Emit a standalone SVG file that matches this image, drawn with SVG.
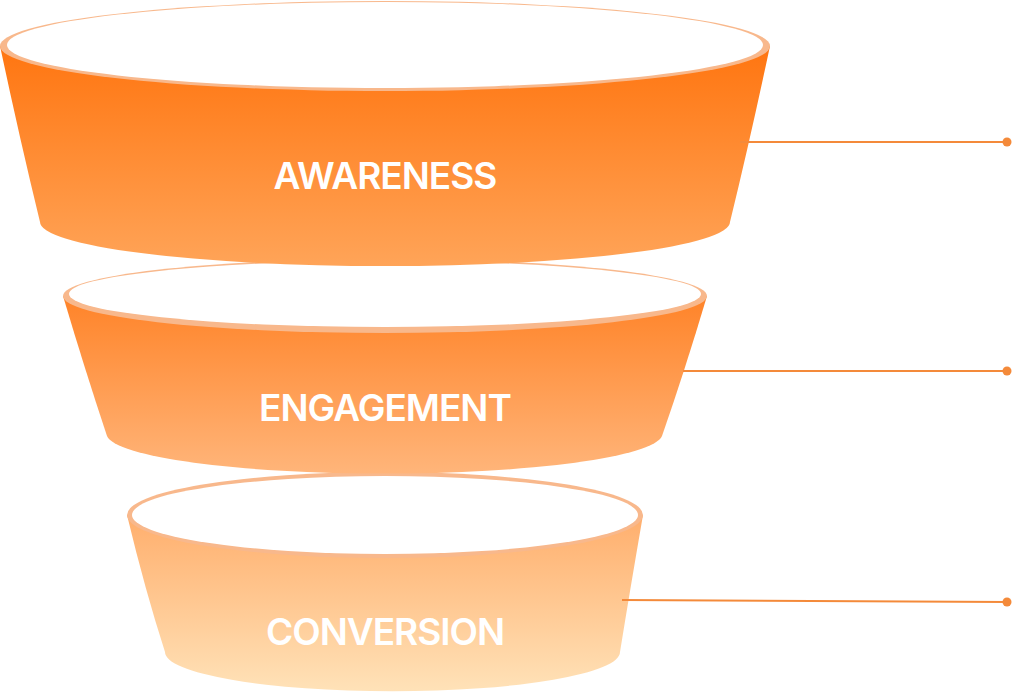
<svg xmlns="http://www.w3.org/2000/svg" width="1014" height="692" viewBox="0 0 1014 692">
<defs>
<linearGradient id="g1" x1="0" y1="0" x2="0" y2="1"><stop offset="0" stop-color="#ff7510"/><stop offset="1" stop-color="#ffa458"/></linearGradient>
<linearGradient id="g2" x1="0" y1="0" x2="0" y2="1"><stop offset="0" stop-color="#ff8328"/><stop offset="1" stop-color="#ffb57a"/></linearGradient>
<linearGradient id="g3" x1="0" y1="0" x2="0" y2="1"><stop offset="0" stop-color="#ffae6c"/><stop offset="1" stop-color="#ffe2b8"/></linearGradient>
<style>
.rim{fill:#f8b88c}
.in{fill:#fff}
.lbl{font-family:Inter,"Liberation Sans",sans-serif;font-weight:600;font-size:37px;fill:#fff;text-anchor:middle;letter-spacing:-1px}
.ln{stroke:#f48a3a;stroke-width:2;fill:none}
.dot{fill:#f48a3a}
</style>
</defs>
<g id="conversion">
<path d="M127,515 Q145,590 165,652 A220,38 0 0 0 620,652 Q630,590 643,515 Z" fill="url(#g3)"/>
<ellipse class="rim" cx="385" cy="515" rx="258" ry="43"/>
<ellipse class="in" cx="385" cy="515" rx="253" ry="39"/>
<text class="lbl" x="385" y="645">CONVERSION</text>
</g>
<g id="engagement">
<path d="M63,296 Q85,370 107,436 A278,40 0 0 0 662,436 Q685,370 707,296 Z" fill="url(#g2)"/>
<ellipse class="rim" cx="385" cy="296" rx="322" ry="37"/>
<ellipse class="in" cx="385" cy="294" rx="316" ry="33"/>
<text class="lbl" x="385" y="421">ENGAGEMENT</text>
</g>
<g id="awareness">
<path d="M0,46 Q20,140 40,222 A345,44 0 0 0 730,222 Q750,140 770,46 Z" fill="url(#g1)"/>
<ellipse class="rim" cx="385" cy="46" rx="385" ry="45"/>
<ellipse class="in" cx="385" cy="45" rx="378" ry="43"/>
<text class="lbl" x="385" y="189">AWARENESS</text>
</g>
<g id="connectors">
<line class="ln" x1="740" y1="142" x2="1007" y2="142"/>
<circle class="dot" cx="1007" cy="142" r="4.5"/>
<line class="ln" x1="683" y1="371" x2="1007" y2="371"/>
<circle class="dot" cx="1007" cy="371" r="4.5"/>
<line class="ln" x1="622" y1="600" x2="1007" y2="602"/>
<circle class="dot" cx="1007" cy="602" r="4.5"/>
</g>
</svg>
